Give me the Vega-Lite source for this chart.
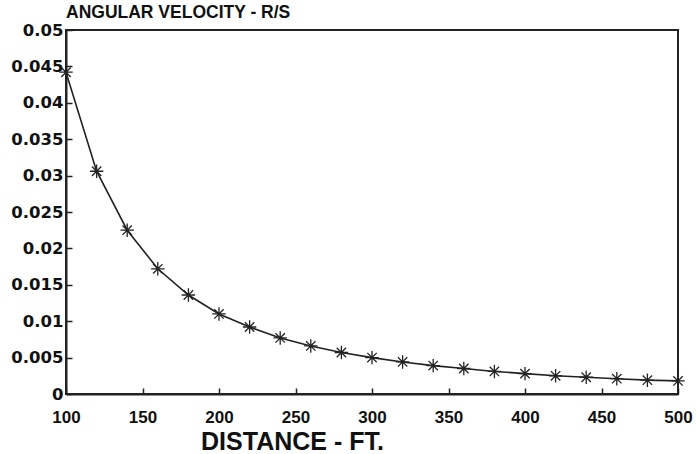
{
  "$schema": "https://vega.github.io/schema/vega-lite/v6.json",
  "autosize": "none",
  "width": 612,
  "height": 364,
  "padding": {"left": 66, "top": 30, "right": 18, "bottom": 60},
  "background": "white",
  "config": {
    "view": {"stroke": "#222", "strokeWidth": 2},
    "font": "Liberation Sans"
  },
  "title": {
    "text": "ANGULAR VELOCITY - R/S",
    "anchor": "start",
    "frame": "group",
    "font": "Liberation Sans",
    "fontSize": 17.5,
    "fontWeight": "bold",
    "color": "#111",
    "offset": 1
  },
  "data": {
    "values": [
      {"d": 100, "w": 0.0442},
      {"d": 120, "w": 0.0306},
      {"d": 140, "w": 0.0225},
      {"d": 160, "w": 0.0172},
      {"d": 180, "w": 0.0136},
      {"d": 200, "w": 0.0110},
      {"d": 220, "w": 0.0092},
      {"d": 240, "w": 0.0077},
      {"d": 260, "w": 0.0066},
      {"d": 280, "w": 0.0057},
      {"d": 300, "w": 0.0050},
      {"d": 320, "w": 0.0044},
      {"d": 340, "w": 0.0039},
      {"d": 360, "w": 0.0035},
      {"d": 380, "w": 0.0031},
      {"d": 400, "w": 0.0028},
      {"d": 420, "w": 0.0025},
      {"d": 440, "w": 0.0023},
      {"d": 460, "w": 0.0021},
      {"d": 480, "w": 0.0019},
      {"d": 500, "w": 0.0018}
    ]
  },
  "encoding": {
    "x": {
      "field": "d", "type": "quantitative",
      "scale": {"domain": [100, 500], "nice": false, "zero": false},
      "axis": {
        "values": [100, 150, 200, 250, 300, 350, 400, 450, 500],
        "title": "DISTANCE - FT.",
        "titleFont": "Liberation Sans", "titleFontSize": 25, "titleFontWeight": "bold",
        "titleColor": "#111", "titleX": 226, "titleAnchor": "middle", "titlePadding": 4,
        "labelFont": "Liberation Sans", "labelFontSize": 17, "labelFontWeight": "bold",
        "labelColor": "#111", "labelPadding": 21, "labelFlush": false, "labelOverlap": false,
        "tickSize": -6, "tickColor": "#222", "tickWidth": 1.5,
        "domainColor": "#222", "domainWidth": 2, "grid": false
      }
    },
    "y": {
      "field": "w", "type": "quantitative",
      "scale": {"domain": [0, 0.05], "nice": false},
      "axis": {
        "values": [0, 0.005, 0.01, 0.015, 0.02, 0.025, 0.03, 0.035, 0.04, 0.045, 0.05],
        "title": null,
        "labelExpr": "datum.value == 0 ? '0' : format(datum.value, '.3~f')",
        "labelFont": "DejaVu Sans", "labelFontSize": 16.5, "labelFontWeight": "bold",
        "labelColor": "#111", "labelPadding": 9, "labelFlush": false, "labelOverlap": false,
        "tickSize": -6, "tickColor": "#222", "tickWidth": 1.5,
        "domainColor": "#222", "domainWidth": 2, "grid": false
      }
    }
  },
  "layer": [
    {"mark": {"type": "line", "color": "#222", "strokeWidth": 1.6}},
    {
      "mark": {
        "type": "point",
        "shape": "M-1,0L1,0M0,-1L0,1M-0.7,-0.7L0.7,0.7M-0.7,0.7L0.7,-0.7",
        "filled": false,
        "stroke": "#222",
        "strokeWidth": 1.3,
        "size": 180,
        "opacity": 1
      }
    }
  ]
}
